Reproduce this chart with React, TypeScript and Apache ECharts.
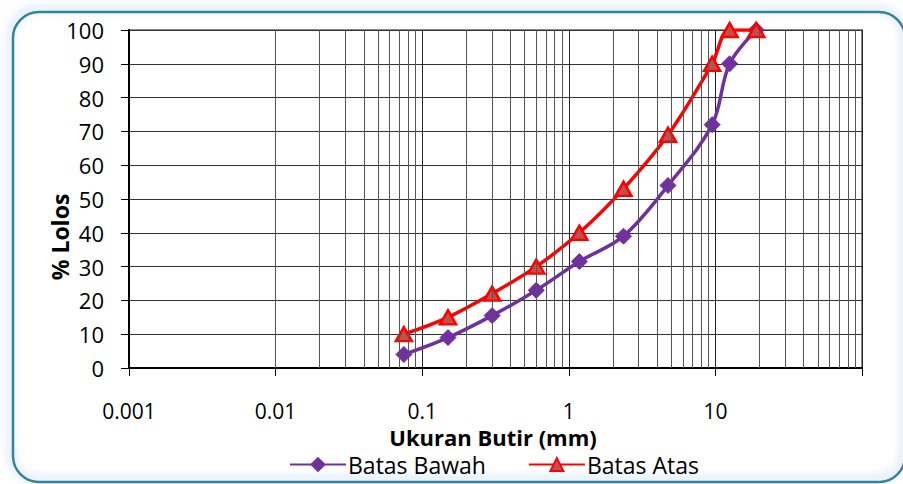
import React, { useEffect, useRef } from "react";
import * as echarts from "echarts";

const sieveSizes = [0.075, 0.15, 0.3, 0.6, 1.18, 2.36, 4.75, 9.5, 12.5, 19];
const batasBawah = [4, 9, 15.5, 23, 31.5, 39, 54, 72, 90, 100];
const batasAtas = [10, 15, 22, 30, 40, 53, 69, 90, 100, 100];
const seriesNames = ["Batas Bawah", "Batas Atas"];
const xTitle = "Ukuran Butir (mm)";
const yTitle = "% Lolos";

const FONT = "'Open Sans', 'Noto Sans', sans-serif";

export default function App() {
  const ref = useRef<HTMLDivElement>(null);
  useEffect(() => {
    if (!ref.current) return;
    const chart = echarts.init(ref.current, undefined, { renderer: "svg" });

    const minorLines: { xAxis: number }[] = [];
    for (let d = -3; d < 2; d++) {
      for (let m = 2; m <= 9; m++) {
        minorLines.push({ xAxis: Number((m * Math.pow(10, d)).toPrecision(6)) });
      }
    }

    const toPairs = (ys: number[]) => sieveSizes.map((x, i) => [x, ys[i]]);

    chart.setOption({
      animation: false,
      backgroundColor: "#ffffff",
      textStyle: { fontFamily: FONT },
      grid: {
        left: 129,
        right: 41,
        top: 30,
        bottom: 116,
        show: true,
        borderColor: "#8c8c8c",
        borderWidth: 2,
        containLabel: false,
      },
      graphic: [
        {
          type: "rect",
          z: -10,
          shape: { x: 13, y: 12, width: 892, height: 470, r: 26 },
          style: {
            fill: "rgba(0,0,0,0)",
            stroke: "#31849B",
            lineWidth: 2.5,
            shadowBlur: 10,
            shadowOffsetX: -2,
            shadowOffsetY: -3,
            shadowColor: "rgba(120,170,230,0.7)",
          },
          silent: true,
        },
        {
          type: "text",
          x: 60,
          y: 237,
          rotation: Math.PI / 2,
          style: {
            text: yTitle,
            font: `bold 23px ${FONT}`,
            fill: "#000",
            textAlign: "center",
            textVerticalAlign: "middle",
          },
        },
        {
          type: "text",
          x: 493,
          y: 437,
          style: {
            text: xTitle,
            font: `bold 22px ${FONT}`,
            lineHeight: 22,
            fill: "#000",
            textAlign: "center",
            textVerticalAlign: "middle",
          },
        },
      ],
      legend: {
        data: seriesNames,
        left: 284,
        top: 448,
        itemWidth: 56,
        itemHeight: 16,
        itemGap: 42,
        textStyle: { fontSize: 23, color: "#000", fontFamily: FONT, padding: [0, 0, 0, -3] },
      },
      xAxis: {
        type: "log",
        logBase: 10,
        min: 0.001,
        max: 100,
        axisLine: { show: true, onZero: false, lineStyle: { color: "#000", width: 2 } },
        axisTick: { show: true, inside: false, length: 8, lineStyle: { color: "#000", width: 1 } },
        axisLabel: {
          fontSize: 21,
          lineHeight: 21,
          color: "#000",
          fontFamily: FONT,
          margin: 32,
          formatter: (v: number) => (v >= 99 ? "" : String(Number(v.toPrecision(6)))),
        },
        splitLine: { show: true, lineStyle: { color: "#222", width: 1 } },
        minorTick: { show: false },
      },
      yAxis: {
        type: "value",
        min: 0,
        max: 100,
        interval: 10,
        axisLine: { show: true, lineStyle: { color: "#000", width: 2 } },
        axisTick: { show: true, inside: false, length: 8, lineStyle: { color: "#000", width: 1 } },
        axisLabel: { fontSize: 22, color: "#000", fontFamily: FONT, margin: 25 },
        splitLine: { show: true, lineStyle: { color: "#333", width: 1 } },
      },
      series: [
        {
          name: "minor-grid",
          type: "line",
          data: [],
          z: 1,
          silent: true,
          markLine: {
            silent: true,
            symbol: ["none", "none"],
            label: { show: false },
            lineStyle: { color: "#555", width: 1, type: "solid" },
            emphasis: { disabled: true },
            data: minorLines,
          },
        },
        {
          name: seriesNames[0],
          type: "line",
          z: 3,
          smooth: 0.35,
          data: toPairs(batasBawah),
          symbol: "diamond",
          symbolSize: 16,
          lineStyle: { color: "#7030A0", width: 3.5 },
          itemStyle: { color: "#7030A0", borderColor: "#7030A0", borderWidth: 1 },
        },
        {
          name: seriesNames[1],
          type: "line",
          z: 4,
          smooth: 0.35,
          data: toPairs(batasAtas),
          symbol: "triangle",
          symbolSize: [16, 14],
          lineStyle: { color: "#FF0000", width: 3.5 },
          itemStyle: { color: "#C0504D", borderColor: "#FF0000", borderWidth: 2.5 },
        },
      ],
    });
    return () => chart.dispose();
  }, []);
  return (
    <div
      ref={ref}
      style={{ position: "fixed", left: 0, top: 0, width: 903, height: 484 }}
    />
  );
}
